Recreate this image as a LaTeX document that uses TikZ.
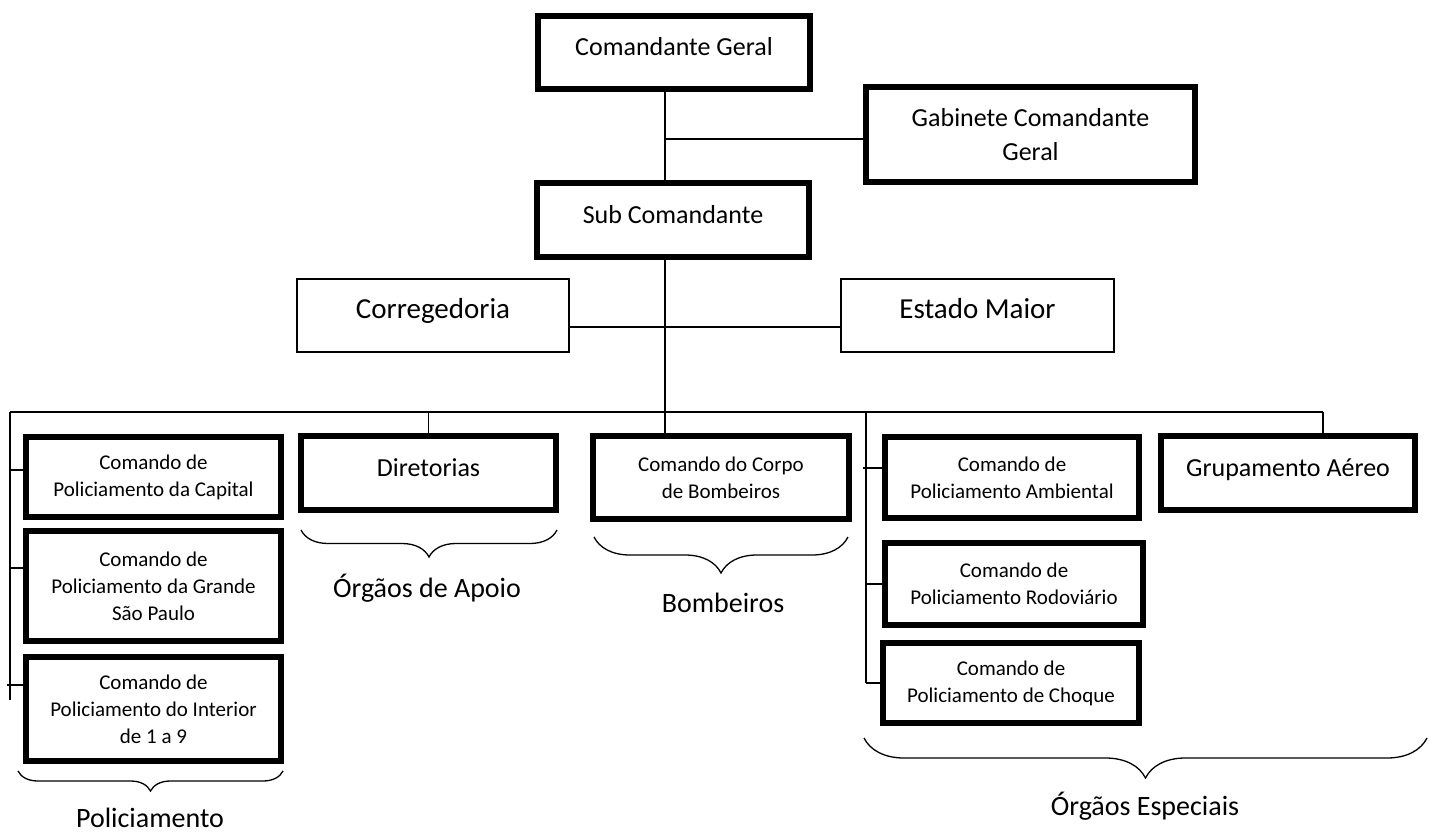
\documentclass[tikz,border=0pt]{standalone}
\usepackage{fontspec}
\setmainfont{Carlito}
\usetikzlibrary{positioning, decorations.pathreplacing}

\begin{document}
\begin{tikzpicture}[x=1pt, y=-1pt]
	\tikzset{box/.style={draw, line width=6pt, inner sep=0pt, align=center, font=\fontsize{21}{27}\selectfont},
		midtext/.style={font=\fontsize{26}{34}\selectfont},
		oneline/.style={text height=18pt, text depth=12pt},
		thinbox/.style={draw, line width=1.6pt, inner sep=0pt, align=center, oneline, font=\fontsize{29}{35}\selectfont},
		link/.style={line width=1.6pt},
		brace/.style={decorate, decoration={brace, mirror, amplitude=#1}, line width=1.3pt},
		caption/.style={anchor=base, font=\fontsize{28}{34}\selectfont}}
	\useasboundingbox (0,0) rectangle (1429,832);

	% top of the chart
	\node[box, midtext, oneline, minimum width=272pt, minimum height=73pt] (cg) at (674,52.5) {Comandante Geral};
	\node[box, midtext, minimum width=329pt, minimum height=95pt] (gab) at (1030.5,134.5) {Gabinete Comandante\\Geral};
	\node[box, midtext, oneline, minimum width=272pt, minimum height=74pt] (sub) at (673,220) {Sub Comandante};
	\node[thinbox, minimum width=272pt, minimum height=73pt] (corr) at (433,315.5) {Corregedoria};
	\node[thinbox, minimum width=273pt, minimum height=73pt] (em) at (977.5,315.5) {Estado Maior};

	% lower row
	\node[box, minimum width=255pt, minimum height=80pt] (cap) at (153.5,477) {Comando de\\Policiamento da Capital};
	\node[box, minimum width=255pt, minimum height=110pt] (gsp) at (153.5,586) {Comando de\\Policiamento da Grande\\São Paulo};
	\node[box, minimum width=255pt, minimum height=104pt] (int) at (153.5,709) {Comando de\\Policiamento do Interior\\de 1 a 9};
	\node[box, midtext, oneline, minimum width=255pt, minimum height=74pt] (dir) at (428.5,473) {Diretorias};
	\node[box, minimum width=256pt, minimum height=83pt] (cbm) at (721,477.5) {Comando do Corpo\\de Bombeiros};
	\node[box, minimum width=254pt, minimum height=81pt] (amb) at (1012,477.5) {Comando de\\Policiamento Ambiental};
	\node[box, minimum width=258pt, minimum height=82pt] (rod) at (1014,584) {Comando de\\Policiamento Rodoviário};
	\node[box, minimum width=256pt, minimum height=80pt] (chq) at (1011,683) {Comando de\\Policiamento de Choque};
	\node[box, midtext, oneline, minimum width=254pt, minimum height=74pt] (gae) at (1288,473) {Grupamento Aéreo};

	\coordinate (trunk) at (665,139);
	\coordinate (side) at (665,327);
	\coordinate (bus) at (665,412);
	\coordinate (busL) at (10,412);
	\coordinate (busR) at (1323,412);
	\coordinate (busE) at (866,412);

	\draw[link]
		(cg.south -| trunk) -- (sub.north -| trunk)
		(trunk) -- (gab.west |- trunk)
		(sub.south -| bus) -- (bus)
		(corr.east |- side) -- (em.west |- side)
		(busL) -- (busR)
		(busL) -- (10,700)
		(busE) -- (866,683)
		(dir.north |- bus) -- (dir.north)
		(bus) -- (cbm.north -| bus)
		(busR) -- (busR |- gae.north);
	% ticks into the stacked boxes
	\draw[link]
		(10,470) -- (cap.west |- 0,470)
		(10,568) -- (gsp.west |- 0,568)
		(7,685) -- (int.west |- 0,685)
		(863,468) -- (amb.west |- 0,468)
		(866,584) -- (rod.west |- 0,584)
		(866,683) -- (chq.west |- 0,683);

	% braces and their captions
	\draw[brace=20pt] (18,771) -- (283,771);
	\draw[brace=27pt] (301,530) -- (557,530);
	\draw[brace=36pt] (594,537) -- (848,537);
	\draw[brace=40pt] (864,738) -- (1427,738);
	\node[caption] (lpol) at (150,827) {Policiamento};
	\node[caption] (lapo) at (427,597) {Órgãos de Apoio};
	\node[caption] (lbom) at (723,612) {Bombeiros};
	\node[caption] (lesp) at (1145,815) {Órgãos Especiais};
\end{tikzpicture}
\end{document}
